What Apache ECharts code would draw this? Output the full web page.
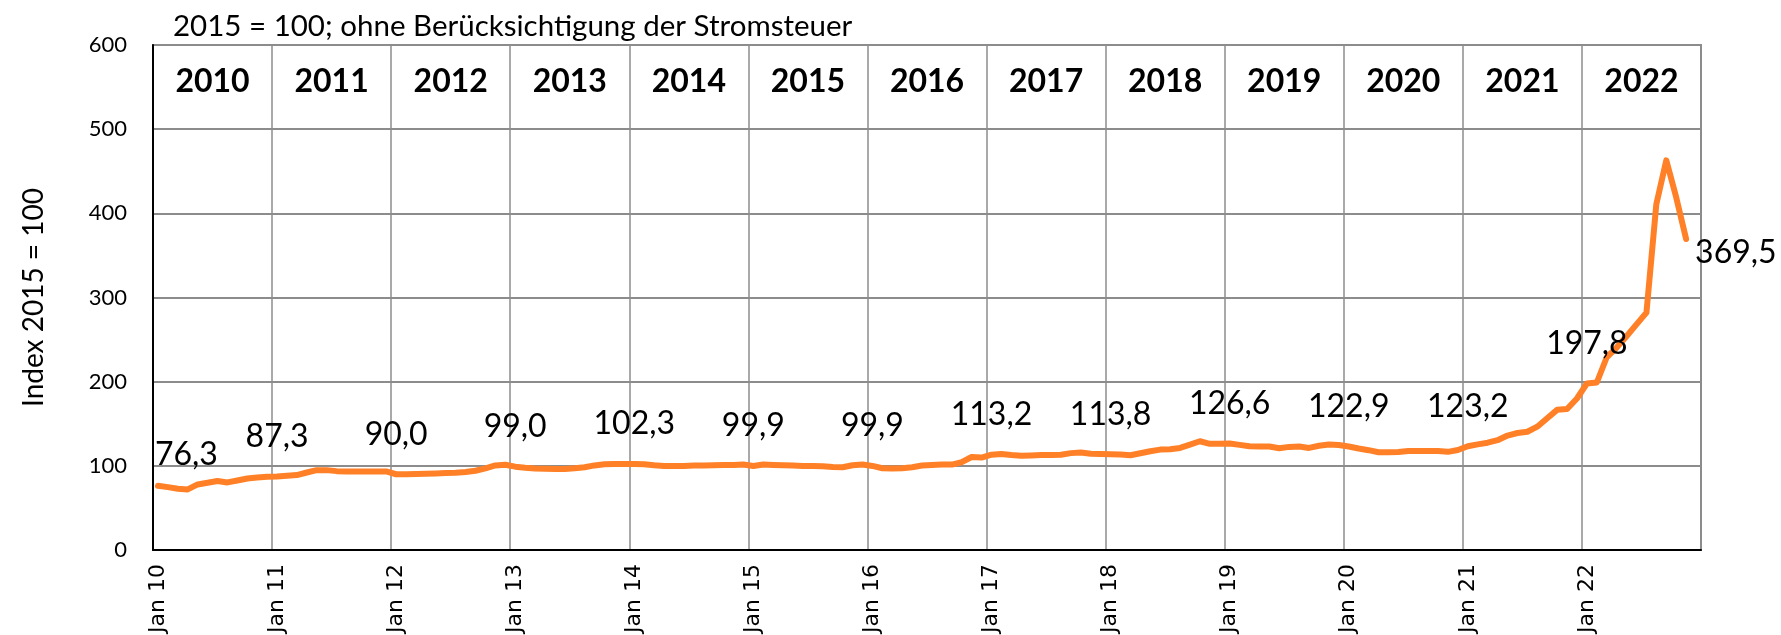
<!DOCTYPE html>
<html>
<head>
<meta charset="utf-8">
<script src="https://cdn.jsdelivr.net/npm/echarts@6/dist/echarts.min.js"></script>
<style>
  html, body { margin: 0; padding: 0; background: #fff; }
  #chart { width: 1781px; height: 635px; }
</style>
</head>
<body>
<div id="chart"></div>
<script>
// ---- data (monthly index, 2015 = 100) ----
const subtitle = '2015 = 100; ohne Berücksichtigung der Stromsteuer';
const yAxisTitle = 'Index 2015 = 100';
const yearLabels = ['2010','2011','2012','2013','2014','2015','2016','2017','2018','2019','2020','2021','2022'];
const yearShort = ['10','11','12','13','14','15','16','17','18','19','20','21','22'];
const monthNames = ['Jan','Feb','Mär','Apr','Mai','Jun','Jul','Aug','Sep','Okt','Nov','Dez'];

const y2010 = [76.3, 74.7, 72.7, 72.0, 77.9, 79.9, 81.9, 80.3, 82.6, 85.0, 86.2, 87.0];
const y2011 = [87.3, 88.2, 89.0, 92.1, 94.9, 94.9, 93.7, 93.3, 93.3, 93.3, 93.3, 93.3];
const y2012 = [90.0, 90.1, 90.3, 90.6, 91.0, 91.4, 91.8, 92.6, 94.2, 97.0, 100.5, 101.2];
const y2013 = [99.0, 97.7, 96.9, 96.5, 96.3, 96.3, 97.1, 98.3, 100.5, 101.8, 102.3, 102.3];
const y2014 = [102.3, 101.9, 100.7, 99.9, 99.9, 99.9, 100.3, 100.3, 100.7, 101.1, 101.1, 101.5];
const y2015 = [99.9, 101.5, 101.1, 100.7, 100.3, 99.9, 99.9, 99.5, 98.7, 98.3, 100.7, 101.5];
const y2016 = [99.9, 97.1, 96.7, 97.1, 98.3, 100.3, 101.1, 101.5, 101.5, 104.3, 110.5, 109.8];
const y2017 = [113.2, 114.0, 112.8, 112.0, 112.4, 112.8, 112.8, 113.2, 115.1, 115.9, 114.4, 114.0];
const y2018 = [113.8, 113.4, 112.6, 115.0, 117.3, 119.3, 119.7, 121.3, 125.2, 129.2, 126.1, 126.1];
const y2019 = [126.6, 124.9, 123.3, 122.9, 122.9, 120.9, 122.5, 122.9, 121.3, 123.9, 125.3, 124.7];
const y2020 = [122.9, 120.6, 118.6, 116.2, 116.0, 116.4, 117.6, 117.7, 117.7, 117.5, 116.6, 118.8];
const y2021 = [123.2, 125.5, 127.5, 130.5, 136.0, 139.0, 140.5, 146.5, 156.5, 166.5, 167.5, 180.0];
const y2022 = [197.8, 199.0, 229.0, 240.5, 254.0, 268.0, 282.0, 411.0, 463.0, 419.0, 369.5];

// ---- derived ----
const values = [].concat(y2010, y2011, y2012, y2013, y2014, y2015, y2016,
                         y2017, y2018, y2019, y2020, y2021, y2022);
const categories = [];
yearShort.forEach(function (y) { monthNames.forEach(function (m) { categories.push(m + ' ' + y); }); });
const lastIdx = values.length - 1;

const fmt = function (v) { return v.toFixed(1).replace('.', ','); };

const labelData = [];
values.forEach(function (v, i) {
  if (i % 12 === 0 || i === lastIdx) {
    const item = { value: [i, v] };
    if (i === 0) {
      item.label = { align: 'left', offset: [-3, 9] };
    } else if (i === lastIdx) {
      item.label = { position: 'right', distance: 9, offset: [0, 14] };
    }
    labelData.push(item);
  }
});

const chart = echarts.init(document.getElementById('chart'), null, { renderer: 'canvas' });
const option = {
  animation: false,
  backgroundColor: '#ffffff',
  title: {
    text: subtitle,
    left: 168,
    top: 6,
    textStyle: { fontFamily: 'Lato', fontSize: 29.5, fontWeight: 'normal', color: '#000' }
  },
  grid: {
    left: 153, top: 45, width: 1548, height: 505,
    show: true, borderColor: '#8c8c8c', borderWidth: 2,
    backgroundColor: 'transparent',
    containLabel: false, outerBoundsMode: 'none'
  },
  xAxis: [
    {
      type: 'category',
      data: categories,
      boundaryGap: true,
      axisLine: { show: true, lineStyle: { color: '#000', width: 2 } },
      axisTick: { show: false },
      axisLabel: {
        interval: function (i) { return i % 12 === 0; },
        rotate: 90,
        fontFamily: 'DejaVu Sans',
        fontSize: 22,
        color: '#000',
        margin: 14
      },
      splitLine: {
        show: true,
        interval: function (i) { return i % 12 === 0; },
        lineStyle: { color: '#8c8c8c', width: 1.5 }
      }
    },
    {
      type: 'category',
      data: yearLabels,
      position: 'top',
      boundaryGap: true,
      axisLine: { show: false },
      axisTick: { show: false },
      splitLine: { show: false },
      axisLabel: {
        inside: true,
        interval: 0,
        margin: 21,
        fontFamily: 'Lato',
        fontWeight: 'bold',
        fontSize: 32,
        color: '#000'
      }
    }
  ],
  yAxis: {
    type: 'value',
    min: 0, max: 600, interval: 100,
    axisLine: { show: true, lineStyle: { color: '#000', width: 2 } },
    axisTick: { show: false },
    axisLabel: { fontFamily: 'Lato', fontSize: 22, color: '#000', margin: 26 },
    splitLine: { show: true, lineStyle: { color: '#8c8c8c', width: 2 } },
    name: yAxisTitle,
    nameLocation: 'middle',
    nameRotate: 90,
    nameGap: 105,
    nameTextStyle: { fontFamily: 'Lato', fontSize: 28, color: '#000' }
  },
  series: [
    {
      type: 'line',
      data: values,
      xAxisIndex: 0,
      showSymbol: false,
      symbol: 'none',
      lineStyle: { color: '#ff8027', width: 6, cap: 'round', join: 'round' },
      emphasis: { disabled: true },
      z: 3
    },
    {
      type: 'scatter',
      data: labelData,
      xAxisIndex: 0,
      symbolSize: 0,
      itemStyle: { color: '#000', opacity: 1 },
      label: {
        show: true,
        position: 'top',
        distance: 24,
        fontFamily: 'Lato',
        fontSize: 32,
        color: '#000',
        opacity: 1,
        formatter: function (p) { return fmt(p.value[1]); }
      },
      emphasis: { disabled: true },
      z: 4
    }
  ]
};
chart.setOption(option);
</script>
</body>
</html>
